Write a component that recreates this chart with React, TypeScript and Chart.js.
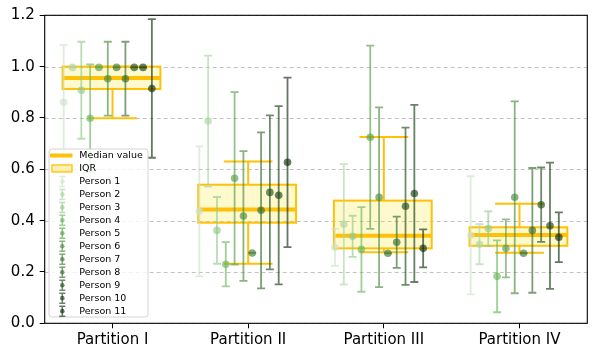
import React, { useEffect, useRef } from "react";
import { Chart, registerables } from "chart.js";

Chart.register(...registerables);

const partitionLabels = ["Partition I", "Partition II", "Partition III", "Partition IV"];
const personLabels = [
  "Person 1", "Person 2", "Person 3", "Person 4", "Person 5", "Person 6",
  "Person 7", "Person 8", "Person 9", "Person 10", "Person 11",
];
const personColors = [
  [205, 228, 199], [172, 214, 164], [148, 202, 139], [106, 184, 92], [90, 160, 74], [75, 140, 62],
  [63, 122, 53], [53, 107, 45], [31, 79, 26], [23, 63, 20], [15, 46, 12],
];

// per-partition person means and error half-widths
const meansI = [0.861, 0.997, 0.908, 0.799, 0.997, 0.953, 0.997, 0.953, 0.997, 0.997, 0.915];
const errsI = [0.223, 0, 0.189, 0.21, 0, 0.144, 0, 0.144, 0, 0, 0.27];
const meansII = [0.436, 0.788, 0.362, 0.23, 0.565, 0.418, 0.274, 0.44, 0.51, 0.499, 0.627];
const errsII = [0.253, 0.255, 0.13, 0.086, 0.336, 0.253, 0, 0.304, 0.3, 0.347, 0.33];
const meansIII = [0.296, 0.386, 0.339, 0.288, 0.725, 0.491, 0.273, 0.316, 0.456, 0.506, 0.292];
const errsIII = [0.072, 0.234, 0.08, 0.165, 0.357, 0.35, 0, 0.1, 0.306, 0.345, 0.074];
const meansIV = [0.343, 0.308, 0.369, 0.183, 0.292, 0.491, 0.273, 0.362, 0.462, 0.38, 0.335];
const errsIV = [0.23, 0.078, 0.067, 0.14, 0.113, 0.374, 0, 0.243, 0.145, 0.246, 0.097];

// box statistics per partition
const medians = [0.956, 0.443, 0.341, 0.344];
const q1 = [0.913, 0.392, 0.292, 0.302];
const q3 = [1.0, 0.54, 0.478, 0.374];
const whiskerLow = [0.799, 0.232, 0.277, 0.275];
const whiskerHigh = [1.0, 0.63, 0.726, 0.466];

const yMin = 0;
const yMax = 1.2;
const yStep = 0.2;

const allMeans = [meansI, meansII, meansIII, meansIV];
const allErrs = [errsI, errsII, errsIII, errsIV];

const ORANGE = "#ffc107";
const BOX_FILL = "rgba(255,232,60,0.25)";
const ALPHA = 0.65;
const rgba = (c: number[], a: number) => `rgba(${c[0]},${c[1]},${c[2]},${a})`;
const personOffset = (i: number) => -0.36 + i * 0.065;
const FONT = '"DejaVu Sans", sans-serif';

const customPlugin = {
  id: "customDraw",
  beforeDatasetsDraw(chart: any) {
    const { ctx, chartArea, scales } = chart;
    const x = scales.x;
    const y = scales.y;
    ctx.save();
    // dashed horizontal grid
    ctx.strokeStyle = "#c2c2c2";
    ctx.lineWidth = 1;
    ctx.setLineDash([4, 3]);
    y.ticks.forEach((t: any) => {
      const py = Math.round(y.getPixelForValue(t.value)) + 0.5;
      ctx.beginPath();
      ctx.moveTo(chartArea.left, py);
      ctx.lineTo(chartArea.right, py);
      ctx.stroke();
    });
    ctx.setLineDash([]);
    // boxes
    for (let j = 0; j < partitionLabels.length; j++) {
      const x0 = x.getPixelForValue(j - 0.368);
      const x1 = x.getPixelForValue(j + 0.353);
      const yT = y.getPixelForValue(q3[j]);
      const yB = y.getPixelForValue(q1[j]);
      ctx.fillStyle = BOX_FILL;
      ctx.fillRect(x0, yT, x1 - x0, yB - yT);
      ctx.strokeStyle = ORANGE;
      ctx.lineWidth = 2;
      ctx.strokeRect(x0, yT, x1 - x0, yB - yT);
      // whiskers
      const xc = x.getPixelForValue(j);
      const cl = x.getPixelForValue(j - 0.18);
      const cr = x.getPixelForValue(j + 0.18);
      const yHi = y.getPixelForValue(whiskerHigh[j]);
      const yLo = y.getPixelForValue(whiskerLow[j]);
      ctx.beginPath();
      ctx.moveTo(xc, yT);
      ctx.lineTo(xc, yHi);
      ctx.moveTo(cl, yHi);
      ctx.lineTo(cr, yHi);
      ctx.moveTo(xc, yB);
      ctx.lineTo(xc, yLo);
      ctx.moveTo(cl, yLo);
      ctx.lineTo(cr, yLo);
      ctx.stroke();
      // median
      const ym = y.getPixelForValue(medians[j]);
      ctx.lineWidth = 4;
      ctx.beginPath();
      ctx.moveTo(x0, ym);
      ctx.lineTo(x1, ym);
      ctx.stroke();
    }
    ctx.restore();
  },
  beforeDatasetDraw(chart: any, args: any) {
    const i = args.index;
    const { ctx, scales } = chart;
    const x = scales.x;
    const y = scales.y;
    ctx.save();
    ctx.strokeStyle = rgba(personColors[i], ALPHA);
    ctx.lineWidth = 1.8;
    for (let j = 0; j < partitionLabels.length; j++) {
      const m = allMeans[j][i];
      const e = allErrs[j][i];
      const px = x.getPixelForValue(j + personOffset(i));
      const yt = y.getPixelForValue(m + e);
      const yb = y.getPixelForValue(m - e);
      ctx.beginPath();
      ctx.moveTo(px, yt);
      ctx.lineTo(px, yb);
      ctx.moveTo(px - 4, yt);
      ctx.lineTo(px + 4, yt);
      ctx.moveTo(px - 4, yb);
      ctx.lineTo(px + 4, yb);
      ctx.stroke();
    }
    ctx.restore();
  },
  afterDatasetsDraw(chart: any) {
    const { ctx, chartArea } = chart;
    ctx.save();
    // axes frame
    ctx.strokeStyle = "#000";
    ctx.lineWidth = 1.1;
    ctx.strokeRect(chartArea.left, chartArea.top, chartArea.right - chartArea.left, chartArea.bottom - chartArea.top);
    // legend
    const lx = 49;
    const ly = 149;
    const lw = 99;
    const lh = 168;
    ctx.beginPath();
    ctx.roundRect(lx, ly, lw, lh, 3);
    ctx.fillStyle = "rgba(255,255,255,0.8)";
    ctx.fill();
    ctx.strokeStyle = "#d4d4d4";
    ctx.lineWidth = 1;
    ctx.stroke();
    const row0 = 155.5;
    const rowH = 12.97;
    const textX = 79.3;
    ctx.font = `9.5px ${FONT}`;
    ctx.textBaseline = "middle";
    ctx.textAlign = "left";
    const labels = ["Median value", "IQR", ...personLabels];
    labels.forEach((lab, k) => {
      const cy = row0 + k * rowH;
      if (k === 0) {
        ctx.strokeStyle = ORANGE;
        ctx.lineWidth = 4;
        ctx.beginPath();
        ctx.moveTo(50, cy);
        ctx.lineTo(72.5, cy);
        ctx.stroke();
      } else if (k === 1) {
        ctx.fillStyle = "rgba(255,240,170,0.9)";
        ctx.fillRect(52, cy - 3.5, 20, 7);
        ctx.strokeStyle = ORANGE;
        ctx.lineWidth = 1.3;
        ctx.strokeRect(52, cy - 3.5, 20, 7);
      } else {
        const c = personColors[k - 2];
        const hx = 62.3;
        ctx.strokeStyle = rgba(c, ALPHA);
        ctx.lineWidth = 1.5;
        ctx.beginPath();
        ctx.moveTo(hx, cy - 5);
        ctx.lineTo(hx, cy + 5);
        ctx.moveTo(hx - 3, cy - 5);
        ctx.lineTo(hx + 3, cy - 5);
        ctx.moveTo(hx - 3, cy + 5);
        ctx.lineTo(hx + 3, cy + 5);
        ctx.stroke();
        ctx.fillStyle = rgba(c, ALPHA);
        ctx.beginPath();
        ctx.arc(hx, cy, 2.3, 0, Math.PI * 2);
        ctx.fill();
      }
      ctx.fillStyle = "#000";
      ctx.fillText(lab, textX, cy + 0.5);
    });
    ctx.restore();
  },
};

export default function App() {
  const ref = useRef<HTMLCanvasElement | null>(null);
  useEffect(() => {
    document.body.style.margin = "0";
    if (!ref.current) return;
    Chart.defaults.color = "#000";
    const datasets = personLabels.map((label, i) => ({
      label,
      data: partitionLabels.map((_, j) => ({ x: j + personOffset(i), y: allMeans[j][i] })),
      backgroundColor: rgba(personColors[i], ALPHA),
      borderWidth: 0,
      pointRadius: 3.8,
      pointHoverRadius: 3.8,
      order: personLabels.length - i,
    }));
    const chart = new Chart(ref.current, {
      type: "scatter",
      data: { datasets },
      options: {
        animation: false,
        responsive: false,
        devicePixelRatio: 1,
        layout: { padding: { left: 0, top: 15.3, right: 8.7, bottom: 0 } },
        plugins: { legend: { display: false }, tooltip: { enabled: false } },
        scales: {
          x: {
            type: "linear",
            min: -0.5,
            max: 3.5,
            afterBuildTicks: (scale: any) => {
              scale.ticks = partitionLabels.map((_, j) => ({ value: j }));
            },
            afterFit: (scale: any) => {
              scale.height = 34.7;
            },
            ticks: {
              autoSkip: false,
              maxRotation: 0,
              padding: 3,
              color: "#000",
              font: { family: FONT, size: 15 },
              callback: (v: any) => partitionLabels[Math.round(Number(v))] ?? "",
            },
            grid: { drawOnChartArea: false, drawTicks: true, tickLength: 5, tickColor: "#000", tickWidth: 1 },
            border: { display: false },
          },
          y: {
            min: yMin,
            max: yMax,
            afterFit: (scale: any) => {
              scale.width = 44.7;
            },
            ticks: {
              stepSize: yStep,
              padding: 5,
              color: "#000",
              font: { family: FONT, size: 15 },
              callback: (v: any) => Number(v).toFixed(1),
            },
            grid: { drawOnChartArea: false, drawTicks: true, tickLength: 5, tickColor: "#000", tickWidth: 1 },
            border: { display: false },
          },
        },
      },
      plugins: [customPlugin],
    });
    return () => chart.destroy();
  }, []);
  return (
    <div style={{ width: 596, height: 358 }}>
      <canvas ref={ref} width={596} height={358} style={{ display: "block" }} />
    </div>
  );
}
